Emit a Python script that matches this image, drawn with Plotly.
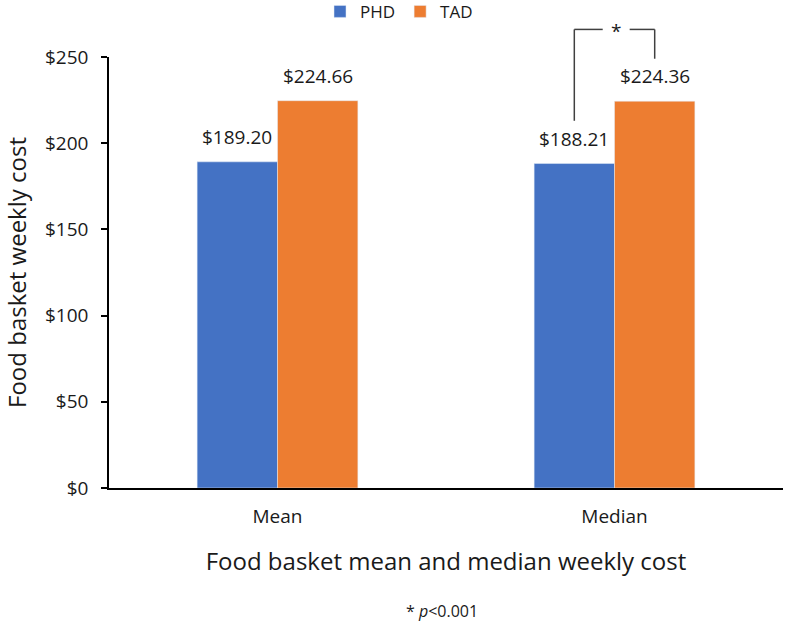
import plotly.graph_objects as go

categories = ["Mean", "Median"]
phd_values = [189.20, 188.21]
tad_values = [224.66, 224.36]
series_names = ["PHD", "TAD"]
y_ticks = [0, 50, 100, 150, 200, 250]
y_tick_labels = ["$0", "$50", "$100", "$150", "$200", "$250"]
# significance bracket (data units) for the Median group
bracket_top = 266
bracket_left_bottom = 213
bracket_right_bottom = 249
footnote = "* <i>p</i><0.001"

FONT = "Open Sans"
TXT = "#1a1a1a"
BLUE = "#4472C4"
ORANGE = "#ED7D31"
YMAX = 250
BARGAP = 0.523
half = (1 - BARGAP) / 2  # width of one bar in category units

fig = go.Figure()
fig.add_trace(go.Bar(name=series_names[0], x=categories, y=phd_values, marker_color=BLUE))
fig.add_trace(go.Bar(name=series_names[1], x=categories, y=tad_values, marker_color=ORANGE))

annotations = []
for i, cat in enumerate(categories):
    for vals, off in ((phd_values, -half / 2), (tad_values, half / 2)):
        annotations.append(dict(
            x=i + off, y=vals[i], xref="x", yref="y", text=f"${vals[i]:.2f}",
            showarrow=False, yanchor="bottom", yshift=10,
            font=dict(family=FONT, size=19, color=TXT)))

# bracket
mi = categories.index("Median")
xl = mi - half / 2
xr = mi + half / 2
gap_l = mi - 0.035
gap_r = mi + 0.045
line = dict(color="#404040", width=1.5)
shapes = [
    dict(type="line", xref="x", yref="paper", x0=xl, x1=xl,
         y0=bracket_left_bottom / YMAX, y1=bracket_top / YMAX, line=line),
    dict(type="line", xref="x", yref="paper", x0=xl, x1=gap_l,
         y0=bracket_top / YMAX, y1=bracket_top / YMAX, line=line),
    dict(type="line", xref="x", yref="paper", x0=gap_r, x1=xr,
         y0=bracket_top / YMAX, y1=bracket_top / YMAX, line=line),
    dict(type="line", xref="x", yref="paper", x0=xr, x1=xr,
         y0=bracket_right_bottom / YMAX, y1=bracket_top / YMAX, line=line),
]
annotations.append(dict(x=(gap_l + gap_r) / 2, y=bracket_top / YMAX, xref="x", yref="paper",
                        text="*", showarrow=False, yanchor="middle", yshift=-2,
                        font=dict(family=FONT, size=19, color=TXT)))
annotations.append(dict(x=0.494, y=-0.286, xref="paper", yref="paper", text=footnote,
                        showarrow=False, yanchor="middle",
                        font=dict(family=FONT, size=16, color=TXT)))

fig.update_layout(
    width=787, height=624,
    margin=dict(l=109, r=4, t=57, b=136, autoexpand=False),
    paper_bgcolor="white", plot_bgcolor="white",
    barmode="group", bargap=BARGAP, bargroupgap=0,
    font=dict(family=FONT, color=TXT),
    showlegend=True,
    legend=dict(orientation="h", xref="container", yref="container", x=0.507, y=0.981,
                xanchor="center", yanchor="middle", font=dict(size=17, color=TXT),
                itemwidth=30, tracegroupgap=0),
    shapes=shapes,
    annotations=annotations,
)
fig.update_xaxes(
    automargin=False,
    showline=True, linecolor="black", linewidth=1.5, ticks="",
    tickfont=dict(size=19, color=TXT), showgrid=False, ticklabelstandoff=10,
    title=dict(text="Food basket mean and median weekly cost",
               font=dict(size=24, color=TXT), standoff=26),
)
fig.update_yaxes(
    automargin=False,
    range=[0, YMAX], tickvals=y_ticks, ticktext=y_tick_labels,
    showline=True, linecolor="black", linewidth=1.5, ticks="outside", ticklen=6,
    tickcolor="black", tickwidth=1.5, showgrid=False, zeroline=False,
    tickfont=dict(size=19, color=TXT), ticklabelstandoff=9,
    title=dict(text="Food basket weekly cost", font=dict(size=24, color=TXT), standoff=13),
)
fig.write_html("out.html", config={"displayModeBar": False},
               post_script="document.body.style.margin='0px';")
